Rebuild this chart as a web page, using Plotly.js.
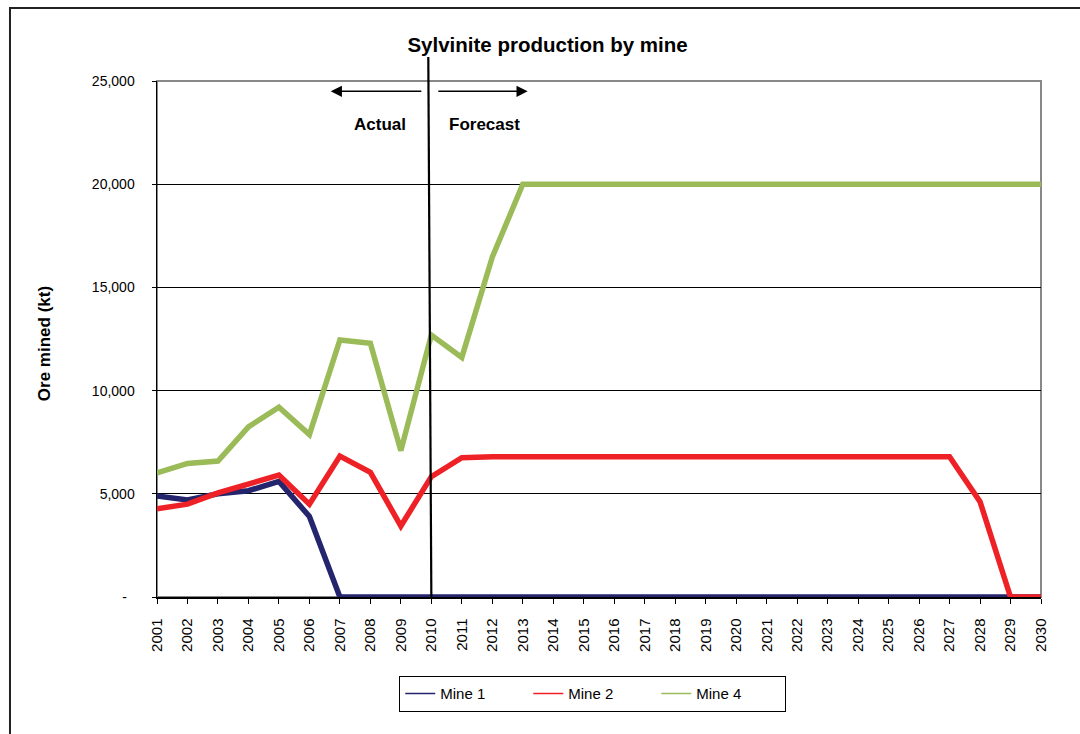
<!DOCTYPE html>
<html>
<head>
<meta charset="utf-8">
<script src="https://cdn.plot.ly/plotly-3.0.1.min.js"></script>
<style>
html,body{margin:0;padding:0;background:#fff;}
#chart{width:1080px;height:734px;}
</style>
</head>
<body>
<div id="chart"></div>
<script>
const years = [2001,2002,2003,2004,2005,2006,2007,2008,2009,2010,2011,2012,2013,2014,2015,2016,2017,2018,2019,2020,2021,2022,2023,2024,2025,2026,2027,2028,2029,2030];
const yearLabels = years.map(String);
const mine1 = [4900,4700,5000,5150,5600,3900,0,0,0,0,0,0,0,0,0,0,0,0,0,0,0,0,0,0,0,0,0,0,0,0];
const mine2 = [4280,4500,5040,5470,5910,4500,6830,6040,3440,5830,6750,6800,6800,6800,6800,6800,6800,6800,6800,6800,6800,6800,6800,6800,6800,6800,6800,4620,0,0];
const mine4 = [6020,6470,6590,8240,9200,7870,12450,12290,7090,12690,11610,16470,20000,20000,20000,20000,20000,20000,20000,20000,20000,20000,20000,20000,20000,20000,20000,20000,20000,20000];
const seriesNames = ["Mine 1","Mine 2","Mine 4"];
const seriesColors = ["#25256E","#EE2226","#9BBB59"];
const yTickVals = [0,5000,10000,15000,20000,25000];
const yTickText = ["-\u00a0\u00a0","5,000","10,000","15,000","20,000","25,000"];
const chartTitle = "Sylvinite production by mine";
const yTitle = "Ore mined (kt)";
const actualLabel = "Actual";
const forecastLabel = "Forecast";
const dividerYear = 2010;

const FONT = "Liberation Sans, Arial, sans-serif";
const allSeries = [mine1, mine2, mine4];

const traces = [];
allSeries.forEach((vals, i) => {
  traces.push({
    type: "scatter", mode: "lines", x: years, y: vals, name: seriesNames[i],
    line: {color: seriesColors[i], width: 5.5}, cliponaxis: false,
    showlegend: false, legendgroup: "g" + i, hoverinfo: "x+y+name"
  });
});
allSeries.forEach((vals, i) => {
  traces.push({
    type: "scatter", mode: "lines", x: [null], y: [null], name: seriesNames[i],
    line: {color: seriesColors[i], width: 1.5}, showlegend: true, legendgroup: "g" + i
  });
});

const layout = {
  width: 1080, height: 734,
  margin: {l: 157, r: 39, t: 81, b: 137},
  paper_bgcolor: "#fff", plot_bgcolor: "#fff",
  font: {family: FONT, color: "#000", size: 14},
  title: {text: chartTitle, font: {family: FONT, size: 20.5, weight: "bold", color: "#000"},
          x: 0.507, xref: "container", xanchor: "center", y: 1 - 45/734, yref: "container", yanchor: "middle"},
  showlegend: true,
  legend: {orientation: "h", x: 0.4926, xanchor: "center", y: -0.153, yanchor: "top",
           bordercolor: "#000", borderwidth: 1.3, bgcolor: "#fff",
           font: {family: FONT, size: 15, color: "#000"},
           entrywidth: 83, entrywidthmode: "pixels", traceorder: "normal"},
  xaxis: {range: [2001, 2030], tickmode: "array", tickvals: years, ticktext: yearLabels,
          tickangle: -90, ticks: "outside", ticklen: 5, tickwidth: 1, tickcolor: "#000",
          showline: true, linecolor: "#000", linewidth: 1.5, showgrid: false, zeroline: false,
          ticklabelstandoff: 9,
          tickfont: {family: FONT, size: 15, color: "#000"}, fixedrange: true},
  yaxis: {range: [0, 25000], tickmode: "array", tickvals: yTickVals, ticktext: yTickText,
          ticks: "outside", ticklen: 4, tickwidth: 1, tickcolor: "#000",
          showline: true, linecolor: "#000", linewidth: 1.5, showgrid: true, gridcolor: "#000", gridwidth: 1,
          zeroline: false, ticklabelstandoff: 14,
          tickfont: {family: FONT, size: 14, color: "#000"}, fixedrange: true},
  shapes: [
    {type: "rect", xref: "paper", yref: "paper", x0: 0, x1: 1, y0: 0, y1: 1,
     line: {color: "#888", width: 2}, fillcolor: "rgba(0,0,0,0)", layer: "between"},
    {type: "line", xref: "x", yref: "paper", x0: dividerYear - 0.1, y0: 1.0465, x1: dividerYear, y1: 0,
     line: {color: "#000", width: 2.2}, layer: "above"},
    {type: "rect", xref: "paper", yref: "paper", x0: -0.1663, x1: 1.06, y0: -0.3, y1: 1.1415,
     line: {color: "#222", width: 2}, fillcolor: "rgba(0,0,0,0)", layer: "below"}
  ],
  annotations: [
    {text: yTitle, xref: "paper", yref: "paper", x: (44-157)/884, y: 0.49, xanchor: "center", yanchor: "middle",
     textangle: -90, showarrow: false, font: {family: FONT, size: 17, weight: "bold", color: "#000"}},
    {text: "", xref: "x", yref: "y", x: 2006.70, y: 24500, axref: "x", ayref: "y", ax: 2009.72, ay: 24500,
     showarrow: true, arrowhead: 2, arrowsize: 1.6, arrowwidth: 1.4, arrowcolor: "#000", standoff: 0, startstandoff: 0},
    {text: "", xref: "x", yref: "y", x: 2013.16, y: 24500, axref: "x", ayref: "y", ax: 2010.18, ay: 24500,
     showarrow: true, arrowhead: 2, arrowsize: 1.6, arrowwidth: 1.4, arrowcolor: "#000", standoff: 0, startstandoff: 0},
    {text: actualLabel, xref: "x", yref: "y", x: 2008.33, y: 22880, showarrow: false,
     font: {family: FONT, size: 17, weight: "bold", color: "#000"}},
    {text: forecastLabel, xref: "x", yref: "y", x: 2011.76, y: 22880, showarrow: false,
     font: {family: FONT, size: 17, weight: "bold", color: "#000"}}
  ]
};

Plotly.newPlot("chart", traces, layout, {displayModeBar: false, staticPlot: true});
</script>
</body>
</html>
